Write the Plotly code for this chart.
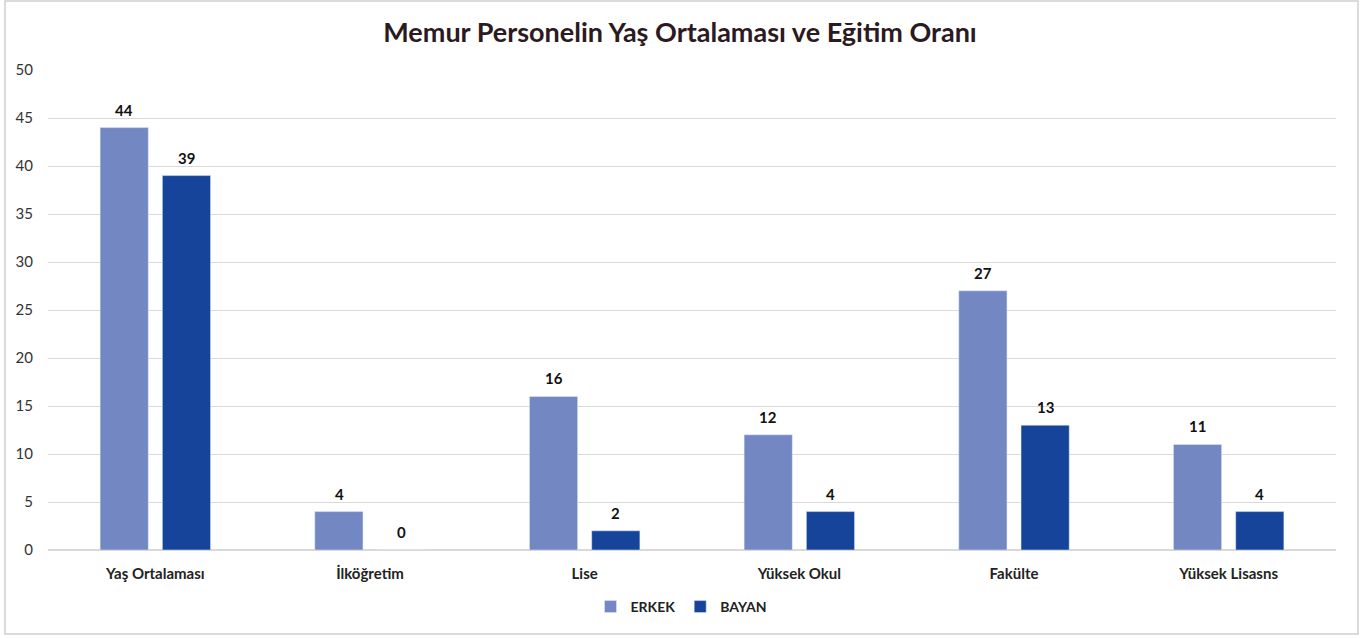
import plotly.graph_objects as go

categories = ["Yaş Ortalaması", "İlköğretim", "Lise", "Yüksek Okul", "Fakülte", "Yüksek Lisasns"]
erkek = [44, 4, 16, 12, 27, 11]
bayan = [39, 0, 2, 4, 13, 4]
y_ticks = [0, 5, 10, 15, 20, 25, 30, 35, 40, 45, 50]

FONT = "Lato, 'Open Sans', sans-serif"
ERKEK_COLOR = "#7387C2"
BAYAN_COLOR = "#16449A"

fig = go.Figure()
fig.add_trace(go.Bar(name="ERKEK", x=categories, y=erkek, marker_color=ERKEK_COLOR))
fig.add_trace(go.Bar(name="BAYAN", x=categories, y=bayan, marker_color=BAYAN_COLOR))

W, H = 1370, 638
L, R, T, B = 48, 34, 70, 88
pw, ph = W - L - R, H - T - B

def px_x(x):
    return (x - L) / pw

def px_y(y):
    return (H - B - y) / ph

annotations = []
for series, dx in ((erkek, -31), (bayan, 31)):
    for c, v in zip(categories, series):
        annotations.append(dict(
            x=c, y=v, xref="x", yref="y", text=f"<b>{v}</b>", showarrow=False,
            xanchor="center", yanchor="bottom", xshift=dx, yshift=7,
            font=dict(size=15, color="#111111", family=FONT),
        ))

fig.update_layout(
    width=W, height=H,
    margin=dict(l=L, r=R, t=T, b=B),
    paper_bgcolor="white", plot_bgcolor="white",
    barmode="group", bargap=0.42, bargroupgap=0.226,
    font=dict(family=FONT, color="#222222"),
    title=dict(text="<b>Memur Personelin Yaş Ortalaması ve Eğitim Oranı</b>",
               x=680 / W, xanchor="center", y=1 - 33 / H, yanchor="middle",
               font=dict(size=27, color="#2b1a20", family=FONT)),
    legend=dict(orientation="h", x=px_x(681), xanchor="center", y=px_y(607), yanchor="middle",
                font=dict(size=14, color="#222222", family=FONT, weight="bold"),
                itemwidth=30, traceorder="normal"),
    xaxis=dict(showgrid=False, showline=False, ticks="", ticklabelstandoff=13,
               tickfont=dict(size=15, color="#222222", family=FONT, weight="bold")),
    yaxis=dict(range=[0, 50], tickvals=y_ticks, showgrid=True, gridcolor="#d9d9d9",
               gridwidth=1, zeroline=True, zerolinecolor="#d9d9d9", showline=False,
               ticks="", ticklabelstandoff=14,
               tickfont=dict(size=15, color="#333333", family=FONT)),
    annotations=annotations,
    shapes=[dict(type="rect", xref="paper", yref="paper",
                 x0=px_x(5), x1=px_x(1358), y0=px_y(634), y1=px_y(1),
                 line=dict(color="#cfcfcf", width=1.5), fillcolor="rgba(0,0,0,0)", layer="below")],
)

fig.write_html("out.html", config={"displayModeBar": False},
               post_script="document.body.style.margin='0';")
